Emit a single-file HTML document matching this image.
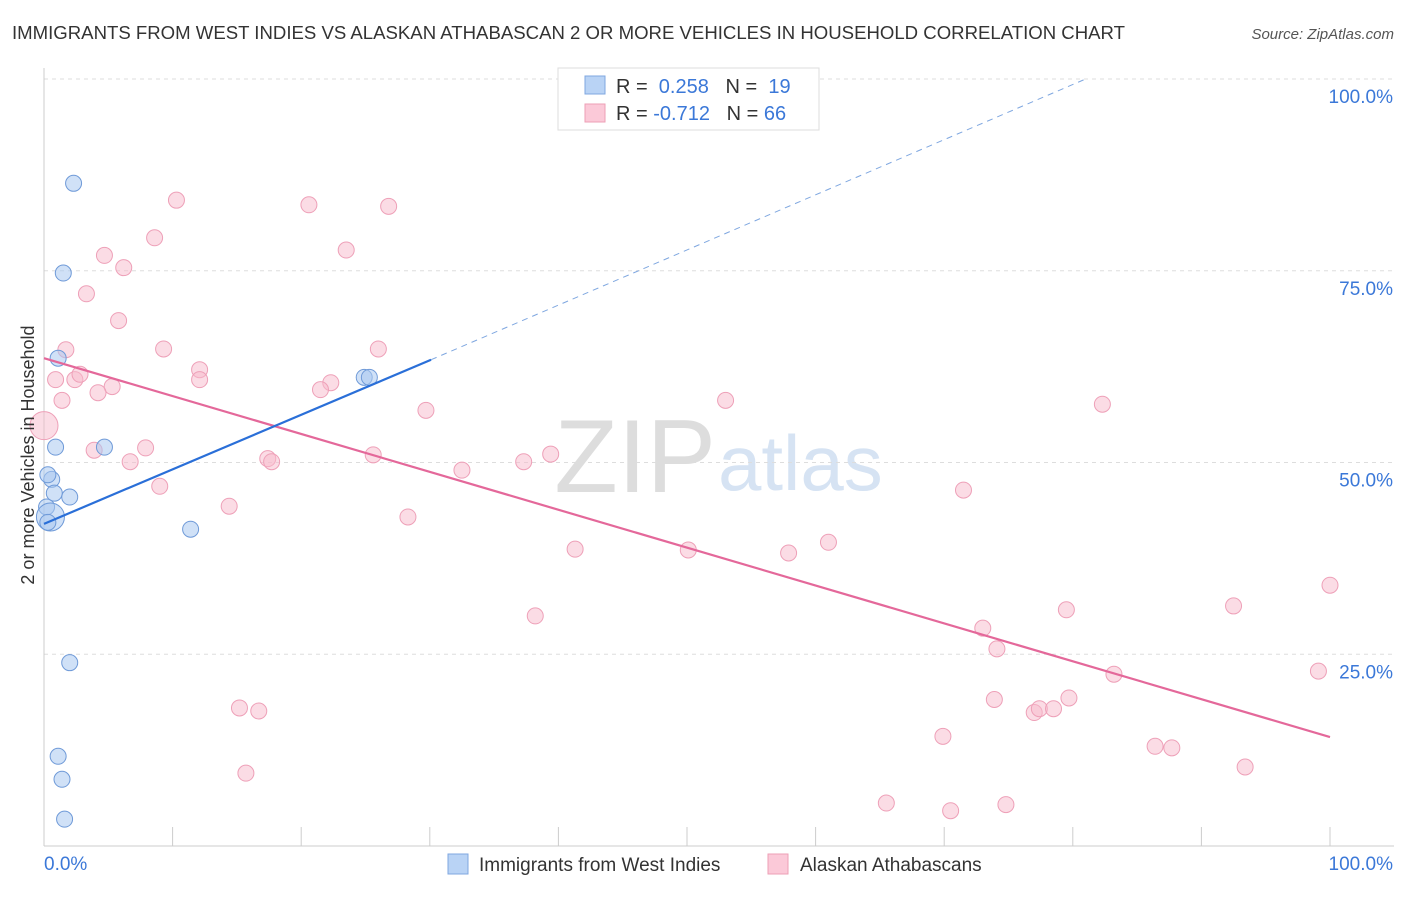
<!DOCTYPE html>
<html><head><meta charset="utf-8"><style>
body{margin:0;background:#fff;font-family:"Liberation Sans",sans-serif;}
svg text{font-family:"Liberation Sans",sans-serif;}
</style></head><body>
<svg id="chart" width="1406" height="892">
<text x="12" y="39" font-size="18" fill="#333" textLength="1113" lengthAdjust="spacingAndGlyphs">IMMIGRANTS FROM WEST INDIES VS ALASKAN ATHABASCAN 2 OR MORE VEHICLES IN HOUSEHOLD CORRELATION CHART</text>
<text x="1394" y="39" font-size="15" fill="#555" font-style="italic" text-anchor="end">Source: ZipAtlas.com</text>
<text x="716" y="492" font-size="104" fill="#ddd" font-family="Liberation Serif" text-anchor="end">ZIP</text>
<text x="718" y="490" font-size="78" fill="#d6e3f3">atlas</text>
<g id="grid"></g>
<g id="axes"></g>
<g id="marks"></g>
<text transform="translate(34,455) rotate(-90)" font-size="18" fill="#333" text-anchor="middle">2 or more Vehicles in Household</text>
<g>
<rect x="558" y="68" width="261" height="62" fill="#fff" stroke="#ddd"/>
<rect x="585" y="76" width="20" height="18" fill="#b9d3f5" stroke="#7fa7e0"/>
<rect x="585" y="104" width="20" height="18" fill="#fbc9d8" stroke="#ee9fb6"/>
<text x="616" y="93" font-size="20" fill="#333">R = <tspan fill="#3b78d8">&#160;0.258</tspan>&#160;&#160;&#160;N = <tspan fill="#3b78d8">&#160;19</tspan></text>
<text x="616" y="120" font-size="20" fill="#333">R = <tspan fill="#3b78d8">-0.712</tspan>&#160;&#160;&#160;N = <tspan fill="#3b78d8">66</tspan></text>
</g>
<g>
<rect x="448" y="854" width="20" height="20" fill="#b9d3f5" stroke="#7fa7e0"/>
<text x="479" y="871" font-size="19" fill="#333">Immigrants from West Indies</text>
<rect x="768" y="854" width="20" height="20" fill="#fbc9d8" stroke="#ee9fb6"/>
<text x="800" y="871" font-size="19" fill="#333">Alaskan Athabascans</text>
</g>
</svg>
<script>
const yTicks=[25,50,75,100];
const xTickCount=10;
const blueX=[2.3,1.5,1.1,0.9,0.6,0.3,0.8,2.0,0.2,0.5,0.3,4.7,11.4,24.9,25.3,2.0,1.1,1.4,1.6];
const blueY=[86.4,74.7,63.6,52.0,47.8,48.4,46.0,45.5,44.2,42.9,42.2,52.0,41.3,61.1,61.1,23.9,11.7,8.7,3.5];
const blueR=[8,8,8,8,8,8,8,8,8,14,8,8,8,8,8,8,8,8,8];
const pinkX=[10.3,20.6,26.8,8.6,23.5,4.7,6.2,3.3,5.8,1.7,9.3,26.0,12.1,12.1,0.9,2.4,2.8,5.3,4.2,22.3,21.5,1.4,29.7,53.0,82.3,0.0,3.9,7.9,6.7,17.4,17.7,25.6,37.3,39.4,32.5,9.0,71.5,14.4,28.3,41.3,50.1,57.9,61.0,38.2,79.5,92.5,100,73.0,74.1,83.2,99.1,15.2,16.7,73.9,79.7,77.0,77.4,78.5,69.9,86.4,87.7,93.4,15.7,65.5,70.5,74.8];
const pinkY=[84.2,83.6,83.4,79.3,77.7,77.0,75.4,72.0,68.5,64.7,64.8,64.8,62.1,60.8,60.8,60.8,61.5,59.9,59.1,60.4,59.5,58.1,56.8,58.1,57.6,54.8,51.6,51.9,50.1,50.5,50.1,51.0,50.1,51.1,49.0,46.9,46.4,44.3,42.9,38.7,38.6,38.2,39.6,30.0,30.8,31.3,34.0,28.4,25.7,22.4,22.8,18.0,17.6,19.1,19.3,17.4,17.9,17.9,14.3,13.0,12.8,10.3,9.5,5.6,4.6,5.4];
const pinkR=[8,8,8,8,8,8,8,8,8,8,8,8,8,8,8,8,8,8,8,8,8,8,8,8,8,14,8,8,8,8,8,8,8,8,8,8,8,8,8,8,8,8,8,8,8,8,8,8,8,8,8,8,8,8,8,8,8,8,8,8,8,8,8,8,8,8];
const blueLine=[[0,42.0],[30.1,63.4]];
const blueDash=[[30.1,63.4],[81,100]];
const pinkLine=[[0,63.6],[100,14.2]];
const X=v=>44+v*12.86, Y=v=>846-v*7.67;
const NS='http://www.w3.org/2000/svg';
function mk(t,a,p){const e=document.createElementNS(NS,t);for(const k in a)e.setAttribute(k,a[k]);document.getElementById(p).appendChild(e);return e;}
yTicks.forEach(v=>{
 const l=mk('line',{x1:44,x2:1394,y1:Y(v),y2:Y(v),stroke:'#ddd','stroke-dasharray':'4,4'},'grid');
 
 
 const t=mk('text',{x:1393,y:Y(v)+24,'font-size':19,fill:'#3b78d8','text-anchor':'end'},'grid');t.textContent=v.toFixed(1)+'%';
 
 
});
mk('line',{x1:44,x2:44,y1:68,y2:846,stroke:'#ccc'},'axes');
mk('line',{x1:44,x2:1394,y1:846,y2:846,stroke:'#ccc'},'axes');
for(let i=0;i<=xTickCount;i++){const x=X(i*100/xTickCount);const l=mk('line',{x1:x,x2:x,y1:827,y2:846,stroke:'#ccc'},'axes');
 
 }
let t=mk('text',{x:44,y:870,'font-size':19,fill:'#3b78d8'},'axes');t.textContent='0.0%';


t=mk('text',{x:1393,y:870,'font-size':19,fill:'#3b78d8','text-anchor':'end'},'axes');t.textContent='100.0%';


pinkX.forEach((v,i)=>{const c=mk('circle',{cx:X(v),cy:Y(pinkY[i]),r:pinkR[i],fill:'rgba(248,185,204,0.5)',stroke:'#eea0b8','stroke-width':1},'marks');
 
 });
blueX.forEach((v,i)=>{const c=mk('circle',{cx:X(v),cy:Y(blueY[i]),r:blueR[i],fill:'rgba(170,200,240,0.55)',stroke:'#6f9ad8','stroke-width':1},'marks');
 
 });
let l=mk('line',{x1:X(pinkLine[0][0]),y1:Y(pinkLine[0][1]),x2:X(pinkLine[1][0]),y2:Y(pinkLine[1][1]),stroke:'#e4689a','stroke-width':2.2},'marks');


l=mk('line',{x1:X(blueLine[0][0]),y1:Y(blueLine[0][1]),x2:X(blueLine[1][0]),y2:Y(blueLine[1][1]),stroke:'#2a6fd8','stroke-width':2.2},'marks');


l=mk('line',{x1:X(blueDash[0][0]),y1:Y(blueDash[0][1]),x2:X(blueDash[1][0]),y2:Y(blueDash[1][1]),stroke:'#7fa7e0','stroke-width':1,'stroke-dasharray':'6,5'},'marks');


</script>
</body></html>
